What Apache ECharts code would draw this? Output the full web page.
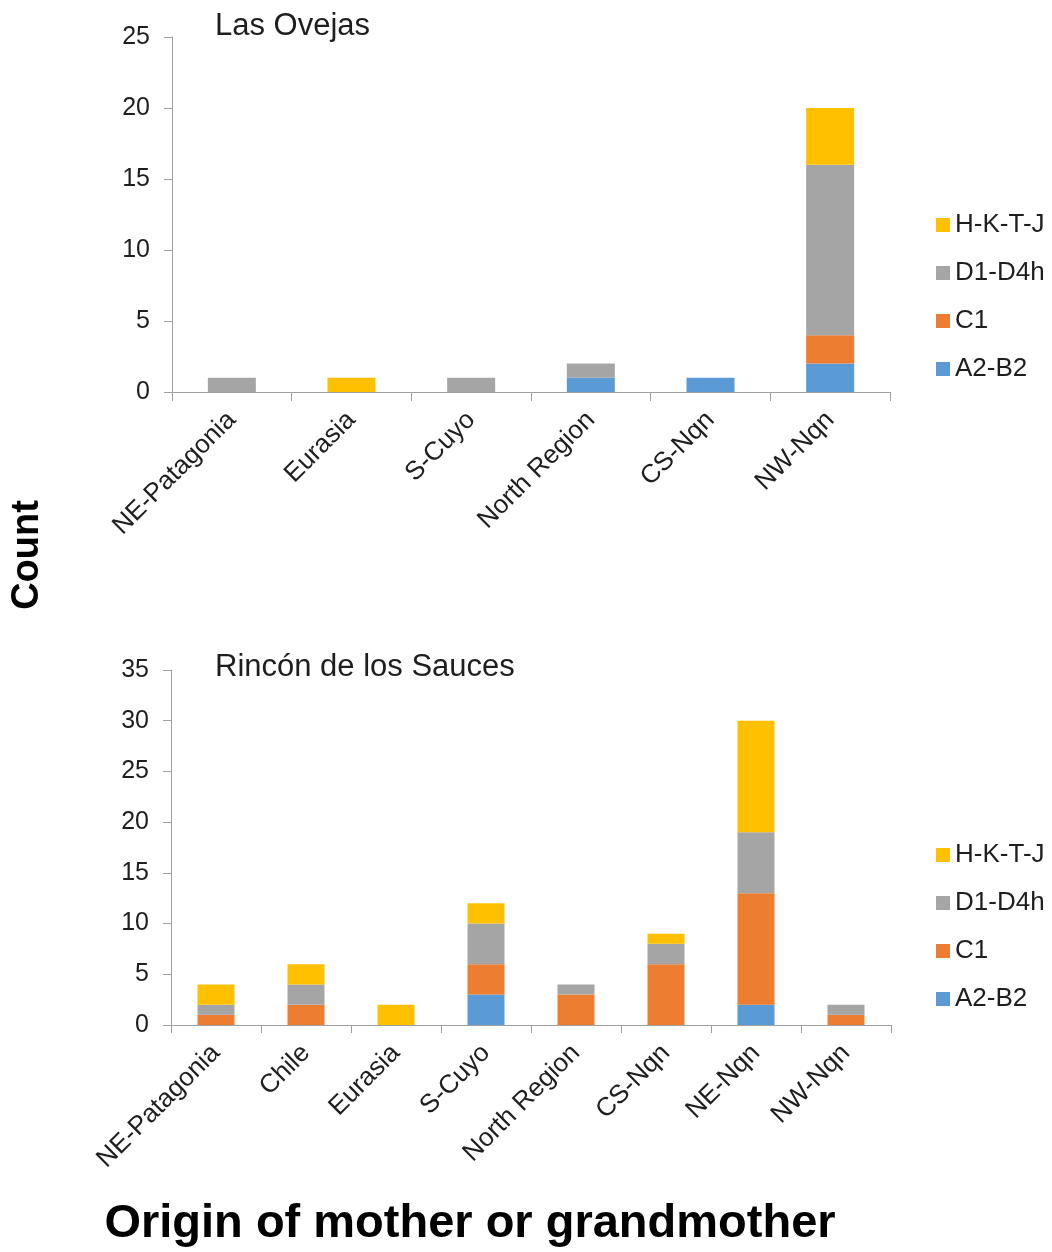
<!DOCTYPE html>
<html>
<head>
<meta charset="utf-8">
<script src="https://cdn.jsdelivr.net/npm/echarts@6/dist/echarts.min.js"></script>
<style>
  html, body { margin: 0; padding: 0; background: #fff; }
  #main { width: 1052px; height: 1252px; }
</style>
</head>
<body>
<div id="main"></div>
<script>
// Las Ovejas
var catsTop = ['NE-Patagonia', 'Eurasia', 'S-Cuyo', 'North Region', 'CS-Nqn', 'NW-Nqn'];
var topA2B2 = [0, 0, 0, 1, 1, 2];
var topC1 = [0, 0, 0, 0, 0, 2];
var topD1D4h = [1, 0, 1, 1, 0, 12];
var topHKTJ = [0, 1, 0, 0, 0, 4];

// Rincón de los Sauces
var catsBot = ['NE-Patagonia', 'Chile', 'Eurasia', 'S-Cuyo', 'North Region', 'CS-Nqn', 'NE-Nqn', 'NW-Nqn'];
var botA2B2 = [0, 0, 0, 3, 0, 0, 2, 0];
var botC1 = [1, 2, 0, 3, 3, 6, 11, 1];
var botD1D4h = [1, 2, 0, 4, 1, 2, 6, 1];
var botHKTJ = [2, 2, 2, 2, 0, 1, 11, 0];

var legendNames = ['H-K-T-J', 'D1-D4h', 'C1', 'A2-B2'];
var colors = {'A2-B2': '#5B9BD5', 'C1': '#ED7D31', 'D1-D4h': '#A5A5A5', 'H-K-T-J': '#FFC000'};

var font = 'Liberation Sans, Arial, sans-serif';
var axisColor = '#a0a0a0';
var textColor = '#1e1e1e';

var chart = echarts.init(document.getElementById('main'));

function xAxisCfg(idx, cats, tickLen) {
    return {
        type: 'category',
        gridIndex: idx,
        data: cats,
        axisLine: { lineStyle: { color: axisColor, width: 1 } },
        axisTick: { show: true, length: tickLen, lineStyle: { color: axisColor } },
        axisLabel: { rotate: 45, fontSize: 26, color: textColor, fontFamily: font, margin: 24, interval: 0 }
    };
}
function yAxisCfg(idx, max) {
    return {
        type: 'value',
        gridIndex: idx,
        min: 0,
        max: max,
        interval: 5,
        splitLine: { show: false },
        axisLine: { show: true, lineStyle: { color: axisColor, width: 1 } },
        axisTick: { show: true, length: 8, lineStyle: { color: axisColor } },
        axisLabel: { fontSize: 25, color: textColor, fontFamily: font, margin: 22 }
    };
}
function bar(name, idx, stack, data, width) {
    return {
        name: name,
        type: 'bar',
        xAxisIndex: idx,
        yAxisIndex: idx,
        stack: stack,
        data: data,
        barWidth: width,
        itemStyle: { color: colors[name] }
    };
}
function legendCfg(top) {
    return {
        data: legendNames,
        orient: 'vertical',
        left: 931,
        top: top,
        icon: 'rect',
        itemWidth: 14,
        itemHeight: 14,
        itemGap: 22,
        textStyle: { fontSize: 26, color: textColor, fontFamily: font }
    };
}
function label(text, x, y, size, weight, rot) {
    return {
        type: 'text',
        x: x, y: y,
        rotation: rot || 0,
        style: {
            text: text,
            font: weight + ' ' + size + 'px ' + font,
            fill: weight === 'bold' ? '#000' : textColor,
            align: rot ? 'center' : (weight === 'bold' ? 'center' : 'left'),
            verticalAlign: 'middle'
        }
    };
}

var option = {
    animation: false,
    legend: [legendCfg(207), legendCfg(837)],
    grid: [
        { left: 172, top: 37, width: 718, height: 355 },
        { left: 171, top: 670, width: 720, height: 355 }
    ],
    xAxis: [xAxisCfg(0, catsTop, 9), xAxisCfg(1, catsBot, 8)],
    yAxis: [yAxisCfg(0, 25), yAxisCfg(1, 35)],
    series: [
        bar('A2-B2', 0, 'top', topA2B2, 48),
        bar('C1', 0, 'top', topC1, 48),
        bar('D1-D4h', 0, 'top', topD1D4h, 48),
        bar('H-K-T-J', 0, 'top', topHKTJ, 48),
        bar('A2-B2', 1, 'bot', botA2B2, 37),
        bar('C1', 1, 'bot', botC1, 37),
        bar('D1-D4h', 1, 'bot', botD1D4h, 37),
        bar('H-K-T-J', 1, 'bot', botHKTJ, 37)
    ],
    graphic: [
        label('Las Ovejas', 215, 26, 31, 'normal'),
        label('Rincón de los Sauces', 215, 667, 31, 'normal'),
        label('Count', 28, 555, 38, 'bold', Math.PI / 2),
        label('Origin of mother or grandmother', 470, 1224, 47, 'bold')
    ]
};

chart.setOption(option);
window.addEventListener('resize', function () {
    chart.resize();
});
</script>
</body>
</html>
